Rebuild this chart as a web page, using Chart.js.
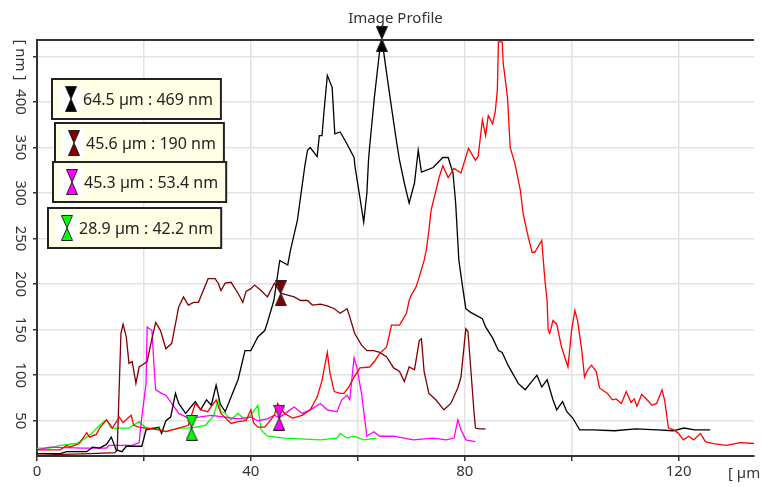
<!DOCTYPE html>
<html>
<head>
<meta charset="utf-8">
<title>Image Profile</title>
<script src="https://cdn.jsdelivr.net/npm/chart.js@4.4.1/dist/chart.umd.min.js"></script>
<style>
	html, body { margin: 0; padding: 0; background: #ffffff; }
	#wrap { width: 761px; height: 487px; }
</style>
</head>
<body>
<div id="wrap"><canvas id="chart_profile" width="761" height="487"></canvas></div>
<script>
/*################################## PERFILES (x en µm, y en nm) ##################################*/

let black_x = [0, 4.3, 5.6, 9.3, 10.4, 11.7, 13.0, 13.9, 14.8, 15.9, 16.7, 19.6, 20.4, 22.8, 23.3, 24.1, 25.0, 25.9, 26.5, 27.8, 29.6, 30.6, 31.7, 32.6, 33.5, 34.3, 35.2, 36.3, 37.6, 38.9, 40.0, 41.3, 42.6, 43.1, 44.3, 45.4, 46.9, 47.4, 48.7, 50.1, 50.6, 51.1, 52.4, 52.8, 53.3, 53.7, 54.3, 55.2, 55.7, 56.7, 57.6, 59.3, 59.5, 60.4, 61.1, 61.7, 62.0, 62.2, 63.1, 64.1, 64.5, 65.4, 66.3, 67.2, 67.8, 68.7, 69.6, 70.6, 71.3, 71.9, 74.1, 75.9, 76.9, 77.8, 78.3, 78.9, 79.6, 80.2, 81.1, 83.3, 83.9, 85.2, 86.3, 87.0, 88.1, 90.0, 91.3, 93.5, 94.4, 95.4, 96.5, 97.2, 98.3, 99.1, 100.2, 101.5, 104, 108, 112, 116, 119, 121, 123, 125.9];
let black_y = [14, 14, 16, 16, 21, 20, 24, 32, 18, 16, 22, 22, 40, 43, 36, 50, 54, 80, 69, 58, 71, 62, 73, 67, 89, 68, 60, 76, 95, 127, 127, 142, 149, 158, 182, 226, 221, 237, 270, 330, 347, 350, 340, 363, 363, 391, 429, 416, 365, 367, 358, 339, 328, 295, 268, 300, 336, 350, 405, 457, 469, 431, 394, 358, 336, 311, 289, 311, 347, 323, 328, 339, 339, 322, 289, 226, 197, 173, 169, 162, 153, 141, 127, 125, 111, 91, 84, 100, 87, 95, 73, 62, 71, 60, 53, 40, 40, 39, 41, 40, 39, 42, 40, 40];

let red_x = [0, 4.3, 5.6, 6.1, 7.9, 9.3, 9.8, 11.1, 11.7, 13.0, 14.1, 15.4, 16.1, 17.6, 18.1, 19.1, 20.4, 22.8, 24.1, 26.5, 28.3, 29.6, 30.7, 31.9, 33.5, 34.4, 36.3, 37.6, 39.1, 40.0, 40.5, 41.3, 42.6, 44.4, 45.0, 46.3, 47.8, 49.6, 51.1, 52.4, 53.3, 54.3, 54.8, 55.6, 56.7, 57.4, 58.3, 59.3, 60.4, 62.2, 63.1, 64.1, 65.4, 66.3, 67.8, 69.1, 69.6, 70.0, 70.9, 71.5, 72.4, 72.8, 73.3, 73.7, 74.3, 75.2, 75.9, 76.9, 78.0, 79.3, 80.7, 82.0, 82.5, 83.3, 83.9, 84.4, 85.2, 85.7, 86.1, 86.3, 87.0, 87.2, 88.0, 88.5, 89.4, 90.4, 90.9, 91.9, 92.6, 93.1, 94.4, 95.0, 95.4, 95.6, 95.9, 96.5, 97.2, 98.1, 99.3, 100.0, 100.6, 101.1, 101.9, 102.4, 103.0, 103.7, 104.6, 105.2, 106.7, 107.6, 108.3, 109.3, 110.2, 111.1, 111.7, 112.2, 113.1, 114.1, 115.0, 115.9, 116.9, 117.4, 118.1, 119.1, 120.0, 120.9, 121.9, 122.8, 124.1, 125.0, 126.5, 128.9, 131.5, 134.1];
let red_y = [18, 18, 23, 21, 25, 37, 32, 35, 42, 51, 42, 54, 48, 56, 45, 43, 42, 40, 38, 42, 45, 69, 62, 60, 73, 58, 47, 49, 50, 62, 48, 43, 43, 56, 69, 58, 53, 56, 62, 76, 94, 125, 102, 82, 80, 80, 87, 98, 108, 109, 115, 124, 131, 155, 155, 168, 182, 188, 197, 208, 226, 237, 259, 281, 295, 317, 330, 317, 327, 322, 349, 336, 340, 380, 363, 385, 376, 389, 413, 466, 466, 442, 405, 350, 332, 303, 278, 251, 235, 235, 248, 204, 182, 150, 146, 160, 156, 131, 109, 150, 171, 160, 127, 98, 106, 111, 104, 86, 80, 73, 74, 69, 82, 70, 74, 66, 79, 73, 67, 69, 84, 72, 42, 40, 36, 29, 33, 29, 36, 27, 25, 23, 26, 25];

let maroon_x = [0, 5, 10, 14.6, 15.0, 15.7, 16.1, 16.7, 17.2, 17.8, 18.5, 19.1, 19.6, 20.6, 21.3, 22.2, 23.1, 24.1, 25.2, 26.5, 27.4, 28.3, 29.3, 30.2, 31.1, 32.0, 33.3, 33.9, 34.4, 35.2, 36.3, 37.6, 38.5, 39.1, 40.0, 40.7, 41.9, 43.1, 44.4, 45.6, 46.9, 48.1, 49.3, 50.6, 51.5, 53.0, 54.3, 55.6, 56.7, 58.0, 58.5, 59.4, 60.7, 61.7, 63.0, 64.1, 65.4, 66.7, 67.8, 68.7, 69.6, 70.6, 71.5, 71.9, 72.4, 73.3, 74.6, 76.1, 77.4, 78.7, 79.3, 80.2, 80.6, 81.1, 81.7, 82.0, 82.8, 83.9];
let maroon_y = [12, 13, 14, 15, 18, 146, 156, 142, 113, 115, 91, 109, 111, 115, 135, 158, 149, 129, 135, 175, 186, 177, 180, 180, 193, 206, 206, 201, 193, 201, 202, 190, 180, 192, 195, 199, 193, 186, 201, 190, 188, 186, 182, 182, 177, 178, 176, 173, 168, 173, 164, 146, 133, 127, 127, 125, 120, 108, 104, 93, 109, 106, 138, 140, 104, 80, 73, 62, 69, 86, 98, 151, 148, 109, 62, 42, 41, 41];

let magenta_x = [0, 2.4, 8.5, 13.0, 13.5, 17.8, 19.1, 19.6, 20.4, 20.6, 21.5, 21.9, 22.2, 23.3, 24.1, 25.2, 26.5, 28.3, 30.2, 32.6, 35.2, 37.6, 40.0, 41.3, 43.1, 44.4, 45.3, 46.9, 48.1, 49.6, 51.1, 53.0, 54.3, 56.1, 57.0, 58.0, 58.5, 59.3, 59.8, 60.7, 61.3, 61.7, 63.0, 64.1, 66.7, 70.4, 74.1, 76.5, 78.0, 78.7, 79.3, 80.2, 82.0];
let magenta_y = [18, 21, 20, 20, 23, 23, 26, 54, 91, 153, 149, 109, 84, 80, 78, 69, 58, 53, 54, 56, 54, 52, 54, 50, 52, 56, 53.4, 60, 65, 58, 62, 69, 62, 60, 73, 78, 73, 119, 109, 80, 51, 33, 38, 33, 33, 29, 31, 29, 31, 51, 40, 29, 27];

let green_x = [0, 2.4, 4.3, 7.4, 9.3, 10.4, 11.7, 13.0, 13.9, 15.4, 17.2, 19.1, 20.4, 22.2, 24.1, 26.5, 28.9, 31.5, 33.0, 33.9, 34.4, 35.2, 36.3, 37.6, 38.9, 40.0, 41.3, 41.9, 43.1, 46.3, 53.0, 56.1, 56.7, 58.0, 59.3, 61.1, 63.5];
let green_y = [20, 20, 23, 25, 32, 37, 45, 51, 42, 42, 42, 49, 42, 42, 38, 42, 42.2, 45, 55, 73, 60, 58, 51, 58, 51, 56, 67, 40, 33, 31, 29, 31, 36, 31, 33, 29, 31];

// cursores: negro, granate, magenta, verde
let cursor_x = [64.5, 45.6, 45.3, 28.9];
let cursor_y = [469, 190, 53.4, 42.2];
let cursor_color = ["#000000", "#800000", "#ff00ff", "#00ff00"];

let y_ticks = [50, 100, 150, 200, 250, 300, 350, 400];

/*#################################################################################################*/

const FONT = "'Noto Sans', 'DejaVu Sans', sans-serif";

function pares(xs, ys) {
	return xs.map((x, i) => ({ x: x, y: ys[i] }));
}

// reloj de arena del cursor
function hourglass(color) {
	const c = document.createElement("canvas");
	c.width = 12;
	c.height = 26;
	const g = c.getContext("2d");
	g.fillStyle = color;
	g.strokeStyle = "#222";
	g.lineWidth = 1;
	g.beginPath();
	g.moveTo(0.5, 0.5); g.lineTo(11.5, 0.5); g.lineTo(6, 13);
	g.lineTo(11.5, 25.5); g.lineTo(0.5, 25.5); g.lineTo(6, 13);
	g.closePath();
	g.fill();
	g.stroke();
	return c;
}

const cursor_img = cursor_color.map(hourglass);

function linea(label, xs, ys, color, order) {
	return {
		label: label,
		data: pares(xs, ys),
		showLine: true,
		borderColor: color,
		backgroundColor: color,
		borderWidth: 1.3,
		pointRadius: 0,
		tension: 0,
		order: order,
	};
}

const caja_left = [52, 55, 53, 48];
const caja_top = [79, 123, 162, 208];

const overlay = {
	id: "overlay",
	afterDraw(chart) {
		const ctx = chart.ctx;
		const area = chart.chartArea;
		const ys = chart.scales.y;
		ctx.save();

		// borde superior
		ctx.strokeStyle = "#333";
		ctx.lineWidth = 2;
		ctx.beginPath();
		ctx.moveTo(area.left, area.top);
		ctx.lineTo(area.right, area.top);
		ctx.stroke();

		ctx.fillStyle = "#333";
		ctx.font = "15px " + FONT;
		ctx.textAlign = "center";
		ctx.textBaseline = "middle";
		ctx.fillText("Image Profile", (area.left + area.right) / 2, 19);

		// etiquetas del eje y, giradas
		y_ticks.forEach(v => {
			ctx.save();
			ctx.translate(20, ys.getPixelForValue(v));
			ctx.rotate(Math.PI / 2);
			ctx.fillText(String(v), 0, 0);
			ctx.restore();
		});
		ctx.save();
		ctx.translate(20, 60);
		ctx.rotate(Math.PI / 2);
		ctx.fillText("[ nm ]", 0, 0);
		ctx.restore();

		ctx.textAlign = "left";
		ctx.fillText("[ µm", 728, 474);

		// cajas de los cursores
		ctx.font = "16px " + FONT;
		cursor_x.forEach((cx, i) => {
			const txt = cx + " µm : " + cursor_y[i] + " nm";
			const w = 30 + ctx.measureText(txt).width + 9;
			const l = caja_left[i], t = caja_top[i], h = 40;
			ctx.fillStyle = "#ffffe6";
			ctx.fillRect(l, t, w, h);
			ctx.strokeStyle = "#222";
			ctx.lineWidth = 2;
			ctx.strokeRect(l, t, w, h);
			ctx.fillStyle = "#ffffff";
			ctx.fillRect(l + 7, t + 6, 23, 27);
			ctx.drawImage(cursor_img[i], l + 13, t + 7);
			ctx.fillStyle = "#222";
			ctx.fillText(txt, l + 31, t + h / 2 + 1);
		});
		ctx.restore();
	},
};

const ctx = document.getElementById("chart_profile").getContext("2d");

let chart_profile = new Chart(ctx, {
	type: "scatter",
	data: {
		datasets: [
			{
				label: "cursores",
				data: pares(cursor_x, cursor_y),
				pointStyle: cursor_img,
				pointRadius: 6,
				clip: false,
				order: 0,
			},
			linea("black", black_x, black_y, "#000000", 2),
			linea("red", red_x, red_y, "#ff0000", 1),
			linea("maroon", maroon_x, maroon_y, "#800000", 3),
			linea("magenta", magenta_x, magenta_y, "#ff00ff", 4),
			linea("green", green_x, green_y, "#00ff00", 5),
		],
	},
	plugins: [overlay],
	options: {
		responsive: false,
		animation: false,
		events: [],
		layout: { padding: { top: 40, left: 0, right: 0, bottom: 0 } },
		plugins: {
			legend: { display: false },
			title: { display: false },
			tooltip: { enabled: false },
		},
		scales: {
			x: {
				type: "linear",
				min: 0,
				max: 134.1,
				afterFit: s => { s.height = 31; },
				ticks: {
					stepSize: 20,
					includeBounds: false,
					autoSkip: false,
					maxRotation: 0,
					padding: 2,
					color: "#333",
					font: { family: FONT, size: 15 },
					callback: v => (v % 40 === 0 ? String(v) : ""),
				},
				grid: { color: "#e2e2e2", lineWidth: 1.5, tickColor: "#333", tickLength: 5 },
				border: { color: "#333", width: 2 },
			},
			y: {
				type: "linear",
				min: 11.3,
				max: 468,
				afterFit: s => { s.width = 37; },
				ticks: { stepSize: 50, includeBounds: false, display: false },
				grid: { color: "#e2e2e2", lineWidth: 1.5, tickColor: "#333", tickLength: 4 },
				border: { color: "#333", width: 2 },
			},
		},
	},
});
</script>
</body>
</html>
